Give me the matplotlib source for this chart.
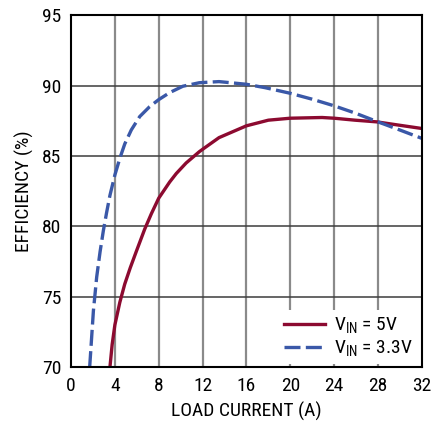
import matplotlib
matplotlib.use("Agg")
import matplotlib.pyplot as plt

# === DATA ===
# VIN = 5V
i_5v = [3.55, 3.75, 4.0, 4.45, 4.9, 5.4, 5.97, 6.72, 7.33, 8.0, 9.0, 9.6, 10.5,
        11.7, 12.0, 13.5, 16.0, 18.0, 20.0, 22.9, 24.0, 25.9, 27.9, 29.8, 32.0]
eff_5v = [70.0, 71.6, 73.0, 74.6, 75.9, 77.05, 78.25, 79.8, 80.9, 82.0, 83.15, 83.75, 84.5,
          85.3, 85.47, 86.3, 87.14, 87.54, 87.68, 87.73, 87.68, 87.54, 87.42, 87.2, 86.95]

# VIN = 3.3V
i_33v = [1.7, 2.04, 2.34, 2.65, 2.95, 3.25, 3.55, 4.0, 4.46, 4.9, 5.5, 6.27, 7.17, 8.0,
         9.0, 10.2, 11.7, 13.5, 16.0, 17.7, 20.0, 22.0, 24.0, 25.9, 27.9, 29.8, 32.0]
eff_33v = [70.0, 74.0, 76.4, 78.2, 79.7, 81.0, 82.2, 83.65, 84.85, 85.85, 86.85, 87.8, 88.5, 89.0,
           89.5, 89.95, 90.2, 90.28, 90.09, 89.85, 89.45, 89.03, 88.56, 88.05, 87.45, 86.9, 86.25]

x_ticks = [0, 4, 8, 12, 16, 20, 24, 28, 32]
y_ticks = [70, 75, 80, 85, 90, 95]

# === STYLE ===
plt.rcParams['font.family'] = ['Roboto Condensed', 'DejaVu Sans']
plt.rcParams['mathtext.default'] = 'regular'

red = '#8c0a30'
blue = '#3a58a8'

fig = plt.figure(figsize=(4.44, 4.21), dpi=100)
ax = fig.add_axes([0.160, 0.128, 0.790, 0.836])

# grid: vertical lighter, horizontal darker
for xv in x_ticks[1:-1]:
    ax.axvline(xv, color='#8a8a8a', lw=1.6, zorder=1)
for yv in y_ticks[1:-1]:
    ax.axhline(yv, color='#3c3c3c', lw=1.1, zorder=1)

ax.plot(i_5v, eff_5v, color=red, lw=2.4, label=r'V$_{IN}$ = 5V', zorder=3,
        solid_joinstyle='round')
ax.plot(i_33v, eff_33v, color=blue, lw=2.4, dashes=(4.8, 1.6),
        label=r'V$_{IN}$ = 3.3V', zorder=3)

ax.set_xlim(0, 32)
ax.set_ylim(70, 95)
ax.set_xticks(x_ticks)
ax.set_yticks(y_ticks)
ax.tick_params(length=0, labelsize=14, pad=7)

for s in ax.spines.values():
    s.set_linewidth(1.5)
    s.set_color('black')
    s.set_zorder(4)

ax.set_xlabel("LOAD CURRENT (A)", fontsize=14, labelpad=5)
ax.set_ylabel("EFFICIENCY (%)", fontsize=14, labelpad=6)

leg = ax.legend(loc='lower right', frameon=True, fontsize=14, handlelength=2.1,
                handletextpad=0.5, borderaxespad=0.15, labelspacing=0.15,
                borderpad=0.3)
leg.get_frame().set_facecolor('white')
leg.get_frame().set_edgecolor('none')
leg.get_frame().set_alpha(1)
leg.set_zorder(5)

fig.savefig("out.png", dpi=100)
